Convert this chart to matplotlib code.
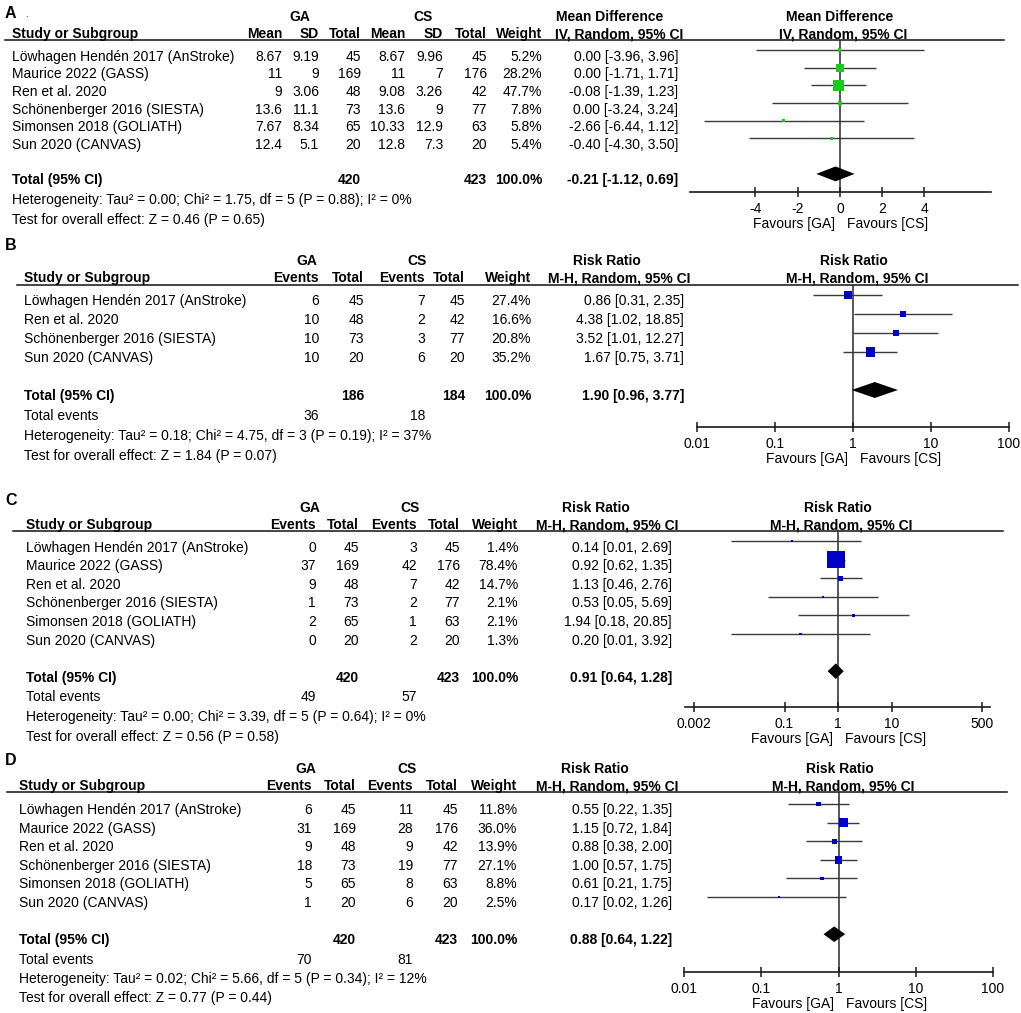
"""
Forest plots GA vs CS (4 Panels, RevMan-Stil)
"""
import matplotlib
matplotlib.use("Agg")
import matplotlib.pyplot as plt

plt.rcParams['font.family'] = ['Liberation Sans', 'DejaVu Sans']
plt.rcParams['font.size'] = 10

# ---------------------------------------------------------------------------
# Daten
# ---------------------------------------------------------------------------
studies_6 = ["Löwhagen Hendén 2017 (AnStroke)", "Maurice 2022 (GASS)", "Ren et al. 2020",
             "Schönenberger 2016 (SIESTA)", "Simonsen 2018 (GOLIATH)", "Sun 2020 (CANVAS)"]
studies_4 = ["Löwhagen Hendén 2017 (AnStroke)", "Ren et al. 2020",
             "Schönenberger 2016 (SIESTA)", "Sun 2020 (CANVAS)"]

# A: Mean Difference
a_ga_mean = ["8.67", "11", "9", "13.6", "7.67", "12.4"]
a_ga_sd = ["9.19", "9", "3.06", "11.1", "8.34", "5.1"]
a_ga_n = [45, 169, 48, 73, 65, 20]
a_cs_mean = ["8.67", "11", "9.08", "13.6", "10.33", "12.8"]
a_cs_sd = ["9.96", "7", "3.26", "9", "12.9", "7.3"]
a_cs_n = [45, 176, 42, 77, 63, 20]
a_weight = [5.2, 28.2, 47.7, 7.8, 5.8, 5.4]
a_est = [0.00, 0.00, -0.08, 0.00, -2.66, -0.40]
a_lo = [-3.96, -1.71, -1.39, -3.24, -6.44, -4.30]
a_hi = [3.96, 1.71, 1.23, 3.24, 1.12, 3.50]
a_total = [-0.21, -1.12, 0.69]
a_total_n = [420, 423]
a_het = "Heterogeneity: Tau² = 0.00; Chi² = 1.75, df = 5 (P = 0.88); I² = 0%"
a_test = "Test for overall effect: Z = 0.46 (P = 0.65)"
a_ticks = [-4, -2, 0, 2, 4]

# B: Risk Ratio
b_ga_ev = [6, 10, 10, 10]
b_ga_n = [45, 48, 73, 20]
b_cs_ev = [7, 2, 3, 6]
b_cs_n = [45, 42, 77, 20]
b_weight = [27.4, 16.6, 20.8, 35.2]
b_est = [0.86, 4.38, 3.52, 1.67]
b_lo = [0.31, 1.02, 1.01, 0.75]
b_hi = [2.35, 18.85, 12.27, 3.71]
b_total = [1.90, 0.96, 3.77]
b_total_n = [186, 184]
b_total_ev = [36, 18]
b_het = "Heterogeneity: Tau² = 0.18; Chi² = 4.75, df = 3 (P = 0.19); I² = 37%"
b_test = "Test for overall effect: Z = 1.84 (P = 0.07)"
b_ticks = [0.01, 0.1, 1, 10, 100]
b_tick_labels = ["0.01", "0.1", "1", "10", "100"]

# C: Risk Ratio
c_ga_ev = [0, 37, 9, 1, 2, 0]
c_ga_n = [45, 169, 48, 73, 65, 20]
c_cs_ev = [3, 42, 7, 2, 1, 2]
c_cs_n = [45, 176, 42, 77, 63, 20]
c_weight = [1.4, 78.4, 14.7, 2.1, 2.1, 1.3]
c_est = [0.14, 0.92, 1.13, 0.53, 1.94, 0.20]
c_lo = [0.01, 0.62, 0.46, 0.05, 0.18, 0.01]
c_hi = [2.69, 1.35, 2.76, 5.69, 20.85, 3.92]
c_total = [0.91, 0.64, 1.28]
c_total_n = [420, 423]
c_total_ev = [49, 57]
c_het = "Heterogeneity: Tau² = 0.00; Chi² = 3.39, df = 5 (P = 0.64); I² = 0%"
c_test = "Test for overall effect: Z = 0.56 (P = 0.58)"
c_ticks = [0.002, 0.1, 1, 10, 500]
c_tick_labels = ["0.002", "0.1", "1", "10", "500"]

# D: Risk Ratio
d_ga_ev = [6, 31, 9, 18, 5, 1]
d_ga_n = [45, 169, 48, 73, 65, 20]
d_cs_ev = [11, 28, 9, 19, 8, 6]
d_cs_n = [45, 176, 42, 77, 63, 20]
d_weight = [11.8, 36.0, 13.9, 27.1, 8.8, 2.5]
d_est = [0.55, 1.15, 0.88, 1.00, 0.61, 0.17]
d_lo = [0.22, 0.72, 0.38, 0.57, 0.21, 0.02]
d_hi = [1.35, 1.84, 2.00, 1.75, 1.75, 1.26]
d_total = [0.88, 0.64, 1.22]
d_total_n = [420, 423]
d_total_ev = [70, 81]
d_het = "Heterogeneity: Tau² = 0.02; Chi² = 5.66, df = 5 (P = 0.34); I² = 12%"
d_test = "Test for overall effect: Z = 0.77 (P = 0.44)"

# ---------------------------------------------------------------------------
# Figur
# ---------------------------------------------------------------------------
W, H = 1021, 1013
fig = plt.figure(figsize=(W / 100, H / 100), dpi=100)
fig.patch.set_facecolor('white')
ax0 = fig.add_axes([0, 0, 1, 1])
ax0.set_xlim(0, W)
ax0.set_ylim(H, 0)
ax0.axis('off')

LINE_COL = '#3a3a3a'
PX2PT = 0.72


def draw_panel(lay, p):
    n = len(p["studies"])
    r0, st, off = lay["row0"], lay["step"], lay["off"]

    def base(i):
        return r0 + i * st + off

    # Buchstabe + Gruppenköpfe
    ax0.text(5, lay["letter_y"], p["letter"], fontsize=11.5, fontweight='bold', va='baseline')
    ax0.text(lay["ga_c"], lay["group_y"], "GA", fontweight='bold', ha='center', va='baseline')
    ax0.text(lay["cs_c"], lay["group_y"], "CS", fontweight='bold', ha='center', va='baseline')
    ax0.text(lay["eff_c"], lay["group_y"], p["eff_name"], fontweight='bold', ha='center', va='baseline')
    ax0.text(lay["plot_c"], lay["group_y"], p["eff_name"], fontweight='bold', ha='center', va='baseline')

    # Kopfzeile
    ax0.text(lay["study_x"], lay["head_y"], "Study or Subgroup", fontweight='bold', va='baseline')
    for xr, h in zip(lay["cols"], p["heads"]):
        ax0.text(xr, lay["head_y"], h, fontweight='bold', ha='right', va='baseline')
    ax0.text(lay["eff_sub_r"], lay["head_y"], p["eff_method"], fontweight='bold', ha='right', va='baseline')
    ax0.text(lay["plot_c"] + 3, lay["head_y"], p["eff_method"], fontweight='bold', ha='center', va='baseline')
    ax0.plot(lay["line_x"], [lay["line_y"]] * 2, color='#111111', lw=1.1)

    # Studienzeilen
    for i in range(n):
        y = base(i)
        ax0.text(lay["study_x"], y, p["studies"][i], va='baseline')
        for xr, col in zip(lay["cols"], p["columns"]):
            ax0.text(xr, y, str(col[i]), ha='right', va='baseline')
        ax0.text(lay["cols"][-1], y, f"{p['weight'][i]:.1f}%", ha='right', va='baseline')
        ax0.text(lay["val_r"], y, f"{p['est'][i]:.2f} [{p['lo'][i]:.2f}, {p['hi'][i]:.2f}]",
                 ha='right', va='baseline')

    # Total
    yt = base(n + 1)
    ax0.text(lay["study_x"], yt, "Total (95% CI)", fontweight='bold', va='baseline')
    for ci, v in zip(p["tot_cols"], p["tot_n"]):
        ax0.text(lay["cols"][ci], yt, str(v), fontweight='bold', ha='right', va='baseline')
    ax0.text(lay["cols"][-1], yt, "100.0%", fontweight='bold', ha='right', va='baseline')
    te = p["total"]
    ax0.text(lay["val_r"], yt, f"{te[0]:.2f} [{te[1]:.2f}, {te[2]:.2f}]", fontweight='bold',
             ha='right', va='baseline')

    k = 1
    if p["tot_ev"] is not None:
        ax0.text(lay["study_x"], yt + k * lay["foot"], "Total events", va='baseline')
        for ci, v in zip(p["ev_cols"], p["tot_ev"]):
            ax0.text(lay["cols"][ci], yt + k * lay["foot"], str(v), ha='right', va='baseline')
        k += 1
    ax0.text(lay["study_x"], yt + k * lay["foot"], p["het"], va='baseline')
    ax0.text(lay["study_x"], yt + (k + 1) * lay["foot"], p["test"], va='baseline')

    # Forest-Achse
    x0, x1 = lay["plot_x"]
    ax = fig.add_axes([x0 / W, 1 - lay["axis_y"] / H, (x1 - x0) / W, (lay["axis_y"] - lay["line_y"]) / H])
    ax.set_facecolor('none')
    if p["log"]:
        ax.set_xscale('log')
    ax.set_xlim(*lay["xlim"])
    ax.set_ylim((lay["axis_y"] - r0) / st, (lay["line_y"] - r0) / st)
    for s in ['top', 'left', 'right']:
        ax.spines[s].set_visible(False)
    ax.spines['bottom'].set_linewidth(1.2)
    ax.spines['bottom'].set_color('#1a1a1a')
    ax.set_yticks([])
    ax.minorticks_off()
    ax.set_xticks(p["ticks"], p["tick_labels"])
    ax.minorticks_off()
    ax.tick_params(axis='x', direction='inout', length=7, width=1.1, color='#1a1a1a',
                   labelsize=10, pad=3.5)
    null = 1 if p["log"] else 0
    ax.axvline(null, color='#2a2a2a', lw=1.1, zorder=1)

    rows = list(range(n))
    ax.hlines(rows, p["lo"], p["hi"], color=LINE_COL, lw=1.0, zorder=2)
    sizes = [((2 + 0.2 * w) * PX2PT) ** 2 for w in p["weight"]]
    ax.scatter(p["est"], rows, s=sizes, marker='s', color=p["color"], linewidths=0, zorder=3)
    h = 0.42
    ax.fill([te[1], te[0], te[2], te[0]], [n + 1, n + 1 - h, n + 1, n + 1 + h],
            color='black', lw=0, zorder=3)

    ax.annotate("Favours [GA]", xy=(null, 0), xycoords=('data', 'axes fraction'),
                xytext=(-5 * PX2PT, -36 * PX2PT), textcoords='offset points', ha='right', va='baseline')
    ax.annotate("Favours [CS]", xy=(null, 0), xycoords=('data', 'axes fraction'),
                xytext=(7 * PX2PT, -36 * PX2PT), textcoords='offset points', ha='left', va='baseline')
    return ax


# Panel A
lay_a = dict(letter_y=18, group_y=21, head_y=38, line_y=40, line_x=[5, 1004], row0=50, step=17.7,
             off=10.5, foot=20, study_x=12, cols=[282, 319, 361, 405, 443, 487, 542],
             ga_c=300, cs_c=423, eff_c=610, eff_sub_r=683, val_r=678, plot_c=840,
             plot_x=(690, 991), axis_y=192, xlim=(-7.1, 7.15))
panel_a = dict(letter="A", studies=studies_6, heads=["Mean", "SD", "Total", "Mean", "SD", "Total", "Weight"],
               columns=[a_ga_mean, a_ga_sd, a_ga_n, a_cs_mean, a_cs_sd, a_cs_n],
               weight=a_weight, est=a_est, lo=a_lo, hi=a_hi, total=a_total,
               tot_cols=[2, 5], tot_n=a_total_n, tot_ev=None, ev_cols=None,
               het=a_het, test=a_test, eff_name="Mean Difference", eff_method="IV, Random, 95% CI",
               log=False, ticks=a_ticks, tick_labels=[str(t) for t in a_ticks], color='#1ec81e')
draw_panel(lay_a, panel_a)
ax0.text(25, 17, ".", fontsize=7)

rr_heads = ["Events", "Total", "Events", "Total", "Weight"]

# Panel B
lay_b = dict(letter_y=250, group_y=265, head_y=282, line_y=285, line_x=[17, 1018], row0=295, step=19,
             off=9.5, foot=20, study_x=24, cols=[319, 364, 425, 465, 531],
             ga_c=307, cs_c=417, eff_c=607, eff_sub_r=690, val_r=684, plot_c=854,
             plot_x=(697, 1009), axis_y=427, xlim=(0.01, 100))
panel_b = dict(letter="B", studies=studies_4, heads=rr_heads,
               columns=[b_ga_ev, b_ga_n, b_cs_ev, b_cs_n],
               weight=b_weight, est=b_est, lo=b_lo, hi=b_hi, total=b_total,
               tot_cols=[1, 3], tot_n=b_total_n, tot_ev=b_total_ev, ev_cols=[0, 2],
               het=b_het, test=b_test, eff_name="Risk Ratio", eff_method="M-H, Random, 95% CI",
               log=True, ticks=b_ticks, tick_labels=b_tick_labels, color='#0000c8')
draw_panel(lay_b, panel_b)

# Panel C
lay_c = dict(letter_y=505, group_y=512, head_y=529, line_y=531, line_x=[13, 1003], row0=541, step=18.6,
             off=10.5, foot=19.7, study_x=26, cols=[316, 359, 417, 460, 518],
             ga_c=310, cs_c=410, eff_c=596, eff_sub_r=678, val_r=672, plot_c=838,
             plot_x=(685, 990), axis_y=707, xlim=(0.00138, 693))
panel_c = dict(letter="C", studies=studies_6, heads=rr_heads,
               columns=[c_ga_ev, c_ga_n, c_cs_ev, c_cs_n],
               weight=c_weight, est=c_est, lo=c_lo, hi=c_hi, total=c_total,
               tot_cols=[1, 3], tot_n=c_total_n, tot_ev=c_total_ev, ev_cols=[0, 2],
               het=c_het, test=c_test, eff_name="Risk Ratio", eff_method="M-H, Random, 95% CI",
               log=True, ticks=c_ticks, tick_labels=c_tick_labels, color='#0000c8')
draw_panel(lay_c, panel_c)

# Panel D
lay_d = dict(letter_y=765, group_y=773, head_y=790, line_y=792, line_x=[7, 1007], row0=804, step=18.6,
             off=10, foot=19.3, study_x=19, cols=[312, 356, 413, 458, 517],
             ga_c=306, cs_c=407, eff_c=595, eff_sub_r=678, val_r=672, plot_c=840,
             plot_x=(684, 993), axis_y=972, xlim=(0.01, 100))
panel_d = dict(letter="D", studies=studies_6, heads=rr_heads,
               columns=[d_ga_ev, d_ga_n, d_cs_ev, d_cs_n],
               weight=d_weight, est=d_est, lo=d_lo, hi=d_hi, total=d_total,
               tot_cols=[1, 3], tot_n=d_total_n, tot_ev=d_total_ev, ev_cols=[0, 2],
               het=d_het, test=d_test, eff_name="Risk Ratio", eff_method="M-H, Random, 95% CI",
               log=True, ticks=b_ticks, tick_labels=b_tick_labels, color='#0000c8')
draw_panel(lay_d, panel_d)

fig.savefig("out.png", dpi=100, facecolor='white')
